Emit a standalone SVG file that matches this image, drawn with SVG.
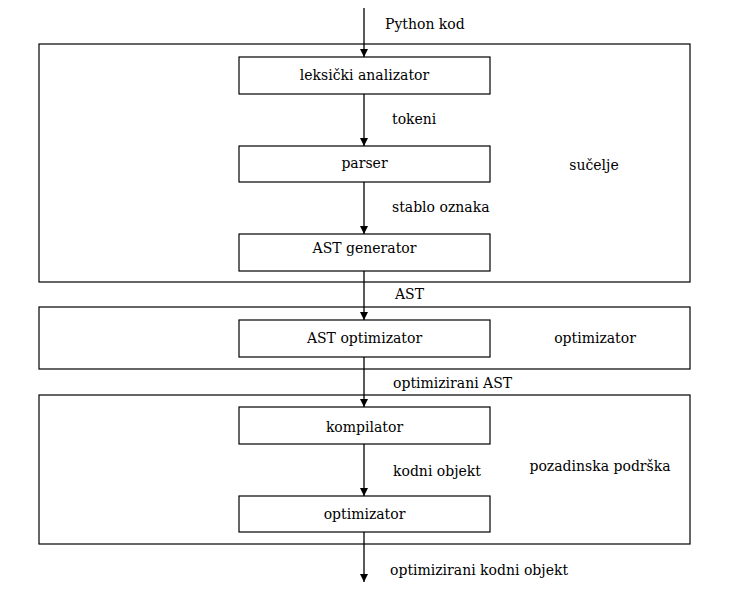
<svg xmlns="http://www.w3.org/2000/svg" width="734" height="594" viewBox="0 0 734 594">
<style>
.box{fill:#fff;stroke:#000;stroke-width:1.2}
.grp{fill:none;stroke:#000;stroke-width:1.2}
.edge{stroke:#000;stroke-width:1.3;fill:none;marker-end:url(#ah)}
text{font-family:"DejaVu Serif",serif;font-size:14px;fill:#000}
.c{text-anchor:middle}
</style>
<defs>
<marker id="ah" viewBox="0 0 10 10" refX="10" refY="5" markerWidth="8" markerHeight="8" markerUnits="userSpaceOnUse" orient="auto">
<path d="M0,0 L10,5 L0,10 Z" fill="#000"/>
</marker>
</defs>
<rect width="734" height="594" fill="#fff"/>
<g id="groups">
<g id="g-sucelje"><rect class="grp" x="39" y="44" width="651" height="238"/><text class="c" x="594" y="170">sučelje</text></g>
<g id="g-optimizator"><rect class="grp" x="39" y="307" width="651" height="62"/><text class="c" x="595" y="343">optimizator</text></g>
<g id="g-pozadinska"><rect class="grp" x="39" y="395" width="651" height="149"/><text class="c" x="600" y="471">pozadinska podrška</text></g>
</g>
<g id="connectors">
<line class="edge" x1="364" y1="8" x2="364" y2="57"/>
<line class="edge" x1="364" y1="94" x2="364" y2="146"/>
<line class="edge" x1="364" y1="182" x2="364" y2="234"/>
<line class="edge" x1="364" y1="271" x2="364" y2="320"/>
<line class="edge" x1="364" y1="357" x2="364" y2="407"/>
<line class="edge" x1="364" y1="444" x2="364" y2="496"/>
<line class="edge" x1="364" y1="532" x2="364" y2="582"/>
<text x="385" y="29">Python kod</text>
<text x="392" y="124">tokeni</text>
<text x="392" y="212">stablo oznaka</text>
<text x="395" y="299">AST</text>
<text x="393" y="388">optimizirani AST</text>
<text x="393" y="476">kodni objekt</text>
<text x="390" y="575">optimizirani kodni objekt</text>
</g>
<g id="n-leks"><rect class="box" x="239" y="57" width="251" height="37"/><text class="c" x="364.5" y="80">leksički analizator</text></g>
<g id="n-parser"><rect class="box" x="239" y="146" width="251" height="36"/><text class="c" x="364.5" y="168">parser</text></g>
<g id="n-astgen"><rect class="box" x="239" y="234" width="251" height="37"/><text class="c" x="364.5" y="253">AST generator</text></g>
<g id="n-astopt"><rect class="box" x="239" y="320" width="251" height="37"/><text class="c" x="364.5" y="343">AST optimizator</text></g>
<g id="n-komp"><rect class="box" x="239" y="407" width="251" height="37"/><text class="c" x="364.5" y="432">kompilator</text></g>
<g id="n-opt"><rect class="box" x="239" y="496" width="251" height="36"/><text class="c" x="364.5" y="519">optimizator</text></g>
</svg>
